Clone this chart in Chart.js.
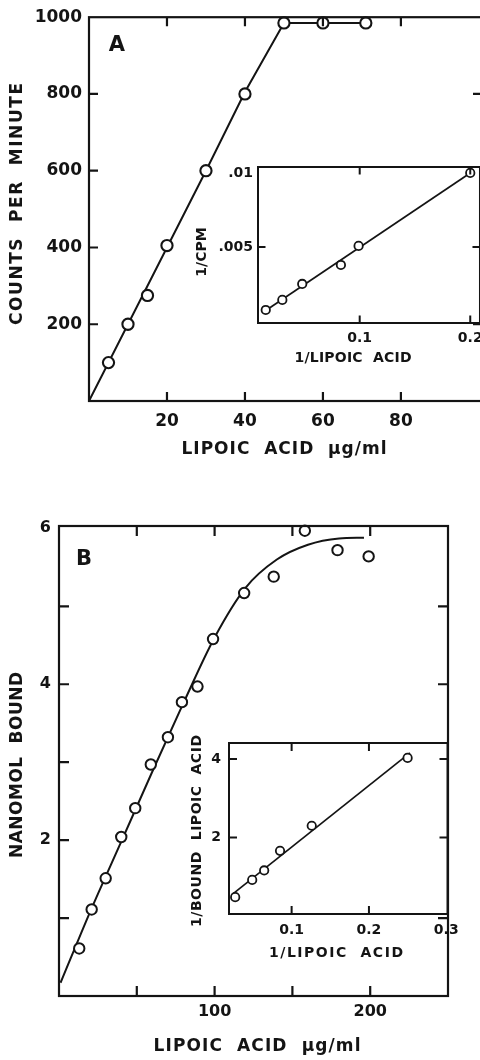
<!DOCTYPE html>
<html><head><meta charset="utf-8">
<script src="https://cdn.jsdelivr.net/npm/chart.js@4.4.1/dist/chart.umd.min.js"></script>
<style>
html,body{margin:0;padding:0;background:#fff;width:480px;height:1060px;overflow:hidden;}
#wrap{position:relative;width:480px;height:1060px;overflow:hidden;background:#fff;}
canvas{position:absolute;display:block;}
</style></head><body>
<div id="wrap">
<canvas id="a" width="490" height="470" style="left:0;top:0"></canvas>
<canvas id="ai" width="300" height="220" style="left:190px;top:150px"></canvas>
<canvas id="b" width="480" height="580" style="left:0;top:480px"></canvas>
<canvas id="bi" width="330" height="280" style="left:150px;top:700px"></canvas>
</div>
<script>
// ---------- Panel A: counts per minute vs lipoic acid ----------
const aConc = [5, 10, 15, 20, 30, 40, 50, 60, 71];
const aCpm  = [100, 200, 275, 405, 600, 800, 985, 985, 985];
const aFitConc = [0, 20, 30, 40, 50, 71];
const aFitCpm  = [0, 400, 600, 805, 985, 985];
const aXTicks = [20, 40, 60, 80];
const aXTickText = ['20', '40', '60', '80'];
const aYTicks = [200, 400, 600, 800, 1000];
const aYTickText = ['200', '400', '600', '800', '1000'];
const aXMarks = [20, 40, 60, 80];
const aYMarks = [200, 400, 600, 800];

// ---------- Panel A inset: 1/CPM vs 1/lipoic acid ----------
const aiInvConc = [0.015, 0.030, 0.048, 0.083, 0.099, 0.200];
const aiInvCpm  = [0.00074, 0.00142, 0.0025, 0.00378, 0.00507, 0.0100];
const aiFitX = [0.013, 0.200];
const aiFitY = [0.0006, 0.0100];
const aiXTicks = [0.1, 0.2];
const aiXTickText = ['0.1', '0.2'];
const aiYTicks = [0.005, 0.01];
const aiYTickText = ['.005', '.01'];
const aiXMarks = [0.1, 0.2];
const aiYMarks = [0.005];

// ---------- Panel B: nanomol bound vs lipoic acid ----------
const bConc  = [13, 21, 30, 40, 49, 59, 70, 79, 89, 99, 119, 138, 158, 179, 199];
const bBound = [0.61, 1.11, 1.51, 2.04, 2.41, 2.97, 3.32, 3.77, 3.97, 4.58, 5.17, 5.38, 5.97, 5.72, 5.64];
const bFitConc  = [1, 20, 40, 60, 80, 100, 120, 140, 160, 180, 196];
const bFitBound = [0.17, 1.08, 1.98, 2.88, 3.76, 4.60, 5.24, 5.60, 5.79, 5.87, 5.88];
const bXTicks = [100, 200];
const bXTickText = ['100', '200'];
const bYTicks = [2, 4, 6];
const bYTickText = ['2', '4', '6'];
const bXMarks = [50, 100, 150, 200];
const bYMarks = [1, 2, 3, 4, 5];

// ---------- Panel B inset: 1/bound vs 1/lipoic acid ----------
const biInvConc  = [0.027, 0.049, 0.0645, 0.085, 0.126, 0.250];
const biInvBound = [0.48, 0.92, 1.16, 1.66, 2.30, 4.03];
const biFitX = [0.022, 0.253];
const biFitY = [0.53, 4.16];
const biXTicks = [0.1, 0.2, 0.3];
const biXTickText = ['0.1', '0.2', '0.3'];
const biYTicks = [2, 4];
const biYTickText = ['2', '4'];
const biXMarks = [0.1, 0.2];
const biYMarks = [2, 4];

const INK = '#141414';
const FAM = '"DejaVu Sans", "Liberation Sans", sans-serif';

const zip = (xs, ys) => xs.map((x, i) => ({x: x, y: ys[i]}));

const framePlugin = {
  id: 'frame',
  beforeDraw(chart, args, o) {
    if (!o.fill) return;
    const a = chart.chartArea, ctx = chart.ctx;
    ctx.save();
    ctx.fillStyle = o.fill;
    ctx.fillRect(a.left, a.top, a.right - a.left, a.bottom - a.top);
    ctx.restore();
  },
  afterDatasetsDraw(chart, args, o) {
    const a = chart.chartArea, ctx = chart.ctx;
    const x = chart.scales.x, y = chart.scales.y;
    ctx.save();
    ctx.strokeStyle = INK;
    ctx.lineWidth = o.lw;
    ctx.strokeRect(a.left, a.top, a.right - a.left, a.bottom - a.top);
    ctx.beginPath();
    ctx.lineWidth = o.tw;
    (o.xMarks || []).forEach(v => {
      const p = x.getPixelForValue(v);
      ctx.moveTo(p, a.bottom); ctx.lineTo(p, a.bottom - o.len);
      ctx.moveTo(p, a.top); ctx.lineTo(p, a.top + o.len);
    });
    (o.yMarks || []).forEach(v => {
      const p = y.getPixelForValue(v);
      ctx.moveTo(a.left, p); ctx.lineTo(a.left + o.len, p);
      ctx.moveTo(a.right, p); ctx.lineTo(a.right - o.len, p);
    });
    ctx.stroke();
    ctx.restore();
  },
  afterDraw(chart, args, o) {
    const ctx = chart.ctx;
    (o.texts || []).forEach(t => {
      ctx.save();
      ctx.font = 'bold ' + t.size + 'px ' + FAM;
      ctx.fillStyle = INK;
      ctx.textAlign = 'center';
      ctx.textBaseline = 'middle';
      let ls = 0;
      if (t.w) {
        ctx.letterSpacing = '0px';
        const w0 = ctx.measureText(t.t).width;
        ls = Math.max(0, (t.w - w0) / Math.max(1, t.t.length - 1));
        ctx.letterSpacing = ls + 'px';
      }
      ctx.translate(t.x, t.y);
      if (t.rot) ctx.rotate(-Math.PI / 2);
      ctx.fillText(t.t, ls / 2, 0);
      ctx.restore();
    });
  }
};

function build(o) {
  return {
    type: 'scatter',
    data: {
      datasets: [
        { type: 'scatter', data: o.pts, pointRadius: o.r, pointBorderWidth: o.pw,
          pointBorderColor: INK, pointBackgroundColor: '#fff', order: 1, clip: false },
        { type: 'line', data: o.fit, borderColor: INK, borderWidth: o.lineW, pointRadius: 0,
          fill: false, tension: 0, cubicInterpolationMode: o.cubic ? 'monotone' : 'default', order: 2 }
      ]
    },
    options: {
      responsive: false, animation: false, events: [],
      layout: { padding: { left: 0, top: o.T, right: o.R, bottom: 0 } },
      plugins: {
        legend: { display: false }, tooltip: { enabled: false },
        frame: { fill: o.fill, lw: o.frameW, tw: o.frameW, len: o.len,
                 xMarks: o.xMarks, yMarks: o.yMarks, texts: o.texts }
      },
      scales: {
        x: {
          type: 'linear', min: o.xMin, max: o.xMax,
          grid: { display: false, drawTicks: false }, border: { display: false },
          afterBuildTicks: s => { s.ticks = o.xTicks.map(v => ({value: v})); },
          afterFit: s => { s.height = o.H; },
          ticks: { callback: (v, i) => o.xText[i], color: INK, padding: o.xPad,
                   font: { family: FAM, size: o.tickSize, weight: 'bold' },
                   maxRotation: 0, autoSkip: false }
        },
        y: {
          type: 'linear', min: o.yMin, max: o.yMax,
          grid: { display: false, drawTicks: false }, border: { display: false },
          afterBuildTicks: s => { s.ticks = o.yTicks.map(v => ({value: v})); },
          afterFit: s => { s.width = o.L; },
          ticks: { callback: (v, i) => o.yText[i], color: INK, padding: o.yPad,
                   font: { family: FAM, size: o.tickSize, weight: 'bold' },
                   autoSkip: false }
        }
      }
    },
    plugins: [framePlugin]
  };
}

new Chart(document.getElementById('a'), build({
  pts: zip(aConc, aCpm), fit: zip(aFitConc, aFitCpm), r: 5.6, pw: 2.1, lineW: 2,
  T: 11, R: 8, H: 69, L: 89, xMin: 0, xMax: 100.8, yMin: 0, yMax: 1000,
  xTicks: aXTicks, xText: aXTickText, yTicks: aYTicks, yText: aYTickText,
  xMarks: aXMarks, yMarks: aYMarks, len: 9, frameW: 2.2, tickSize: 17, xPad: 10, yPad: 7,
  texts: [
    { t: 'A', x: 117, y: 46, size: 21 },
    { t: 'COUNTS  PER  MINUTE', x: 18, y: 204, size: 17, rot: true, w: 242 },
    { t: 'LIPOIC  ACID  \u03BCg/ml', x: 284, y: 450, size: 17, w: 205 }
  ]
}));

new Chart(document.getElementById('ai'), build({
  pts: zip(aiInvConc, aiInvCpm), fit: zip(aiFitX, aiFitY), r: 4.2, pw: 1.8, lineW: 1.7,
  T: 17, R: 8, H: 47, L: 68, xMin: 0.008, xMax: 0.2088, yMin: -0.00014, yMax: 0.0104,
  xTicks: aiXTicks, xText: aiXTickText, yTicks: aiYTicks, yText: aiYTickText,
  xMarks: aiXMarks, yMarks: aiYMarks, len: 7.5, frameW: 2, tickSize: 14, xPad: 7, yPad: 5,
  fill: '#fff',
  texts: [
    { t: '1/CPM', x: 12, y: 102, size: 14, rot: true, w: 49 },
    { t: '1/LIPOIC  ACID', x: 163, y: 208, size: 14, w: 117 }
  ]
}));

new Chart(document.getElementById('b'), build({
  pts: zip(bConc, bBound), fit: zip(bFitConc, bFitBound), cubic: true, r: 5.2, pw: 2, lineW: 2,
  T: 46, R: 32, H: 64, L: 59, xMin: 0, xMax: 250, yMin: 0, yMax: 6.03,
  xTicks: bXTicks, xText: bXTickText, yTicks: bYTicks, yText: bYTickText,
  xMarks: bXMarks, yMarks: bYMarks, len: 10, frameW: 2.2, tickSize: 16, xPad: 6, yPad: 8,
  texts: [
    { t: 'B', x: 84, y: 80, size: 21 },
    { t: 'NANOMOL  BOUND', x: 18, y: 285, size: 17, rot: true, w: 186 },
    { t: 'LIPOIC  ACID  \u03BCg/ml', x: 257, y: 567, size: 17, w: 207 }
  ]
}));

new Chart(document.getElementById('bi'), build({
  pts: zip(biInvConc, biInvBound), fit: zip(biFitX, biFitY), r: 4.2, pw: 1.8, lineW: 1.7,
  T: 43, R: 32.5, H: 66, L: 79, xMin: 0.019, xMax: 0.3016, yMin: 0.05, yMax: 4.41,
  xTicks: biXTicks, xText: biXTickText, yTicks: biYTicks, yText: biYTickText,
  xMarks: biXMarks, yMarks: biYMarks, len: 8, frameW: 2, tickSize: 14, xPad: 8, yPad: 8,
  fill: '#fff',
  texts: [
    { t: '1/BOUND  LIPOIC  ACID', x: 47, y: 131, size: 14, rot: true, w: 192 },
    { t: '1/LIPOIC  ACID', x: 186, y: 253, size: 14, w: 134 }
  ]
}));
</script>
</body></html>
